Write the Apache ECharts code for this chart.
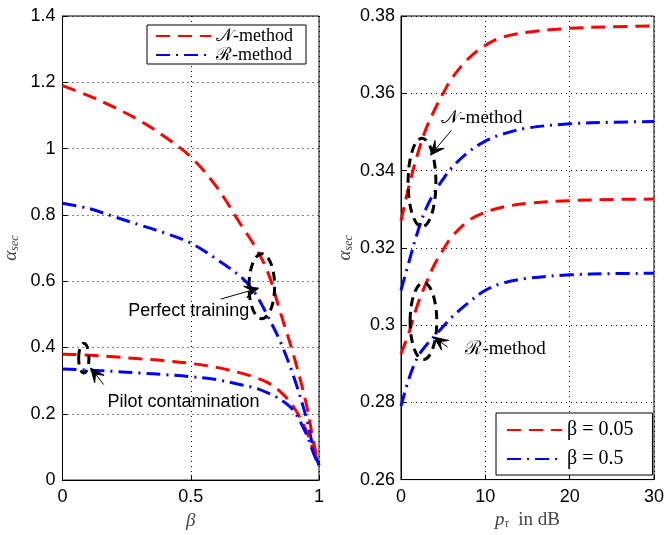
<!DOCTYPE html>
<html>
<head>
<meta charset="utf-8">
<script src="https://cdn.jsdelivr.net/npm/echarts@6/dist/echarts.min.js"></script>
<style>
  html, body { margin: 0; padding: 0; background: #fff; }
  #main { width: 667px; height: 535px; }
</style>
</head>
<body>
<div id="main"></div>
<script>
// left panel: alpha_sec vs beta
var betaX = [0, 0.1, 0.2, 0.3, 0.4, 0.5, 0.6, 0.7, 0.75, 0.8, 0.85, 0.9, 0.95, 0.98, 1];
var nPerfect = [1.19, 1.16, 1.125, 1.085, 1.035, 0.975, 0.885, 0.765, 0.705, 0.628, 0.504, 0.379, 0.231, 0.11, 0.045];
var rPerfect = [0.835, 0.82, 0.795, 0.77, 0.745, 0.715, 0.667, 0.61, 0.565, 0.495, 0.416, 0.315, 0.19, 0.09, 0.045];
var nPilot = [0.38, 0.377, 0.372, 0.366, 0.36, 0.352, 0.34, 0.322, 0.31, 0.294, 0.266, 0.222, 0.15, 0.085, 0.045];
var rPilot = [0.335, 0.332, 0.328, 0.323, 0.318, 0.312, 0.303, 0.287, 0.278, 0.263, 0.243, 0.21, 0.14, 0.078, 0.045];

// right panel: alpha_sec vs p_tau (dB)
var ptauX = [0, 1, 2, 3, 4, 5, 6, 8, 10, 12, 15, 20, 25, 30];
var nBeta005 = [0.327, 0.3365, 0.3445, 0.351, 0.3558, 0.360, 0.3638, 0.369, 0.3724, 0.3745, 0.3758, 0.3768, 0.3772, 0.3774];
var nBeta05 = [0.309, 0.3168, 0.3243, 0.3303, 0.3345, 0.3378, 0.3407, 0.3448, 0.3476, 0.3494, 0.3510, 0.3521, 0.3525, 0.3527];
var rBeta005 = [0.2925, 0.2985, 0.3055, 0.3110, 0.3158, 0.3195, 0.3228, 0.3270, 0.3292, 0.3305, 0.3315, 0.3322, 0.3325, 0.3326];
var rBeta05 = [0.279, 0.2865, 0.2918, 0.2948, 0.2972, 0.2996, 0.3020, 0.3058, 0.3090, 0.3108, 0.3121, 0.3130, 0.3133, 0.3134];

// annotations: [cx, cy, rx, ry, tailX, tailY, headX, headY, textX, textY]
var leftNotes = [
  [0.777, 0.585, 0.05, 0.098, 0.617, 0.546, 0.765, 0.579, 0.492, 0.51],
  [0.083, 0.368, 0.02, 0.045, 0.161, 0.288, 0.110, 0.338, 0.472, 0.236]
];
var leftNoteText = ['Perfect training', 'Pilot contamination'];
var rightNotes = [
  [2.49, 0.3369, 1.65, 0.01147, 5.98, 0.3504, 3.5, 0.344, 9.6, 0.3535],
  [2.66, 0.301, 1.58, 0.00994, 5.52, 0.2943, 3.89, 0.2969, 12.4, 0.2937]
];
var rightNoteText = ['𝒩-method', 'ℛ-method'];

var redDash = { color: '#ff0000', width: 3, type: [14, 8] };
var blueDashDot = { color: '#0000ff', width: 3, type: [14, 6, 2, 6] };

function pairs(xs, ys) {
  return xs.map(function (x, i) { return [x, ys[i]]; });
}

function curve(name, idx, xs, ys, style) {
  return {
    name: name,
    type: 'line',
    xAxisIndex: idx,
    yAxisIndex: idx,
    data: pairs(xs, ys),
    showSymbol: false,
    symbol: 'none',
    smooth: 0.35,
    lineStyle: style,
    itemStyle: { color: style.color },
    z: 3
  };
}

function notes(idx, data, texts, textFont) {
  return {
    type: 'custom',
    xAxisIndex: idx,
    yAxisIndex: idx,
    data: data,
    z: 10,
    silent: true,
    renderItem: function (params, api) {
      var c = api.coord([api.value(0), api.value(1)]);
      var s = api.size([api.value(2), api.value(3)]);
      var t = api.coord([api.value(4), api.value(5)]);
      var h = api.coord([api.value(6), api.value(7)]);
      var l = api.coord([api.value(8), api.value(9)]);
      var dx = h[0] - t[0], dy = h[1] - t[1];
      var len = Math.sqrt(dx * dx + dy * dy);
      dx /= len; dy /= len;
      var nx = -dy, ny = dx;
      var L = 14, W = 6;
      var head = [
        [h[0], h[1]],
        [h[0] - dx * L + nx * W, h[1] - dy * L + ny * W],
        [h[0] - dx * L * 0.55, h[1] - dy * L * 0.55],
        [h[0] - dx * L - nx * W, h[1] - dy * L - ny * W]
      ];
      return {
        type: 'group',
        children: [
          {
            type: 'ellipse',
            shape: { cx: c[0], cy: c[1], rx: s[0], ry: s[1] },
            style: { fill: 'none', stroke: '#000', lineWidth: 3, lineDash: [9, 6] }
          },
          {
            type: 'line',
            shape: { x1: t[0], y1: t[1], x2: h[0] - dx * 8, y2: h[1] - dy * 8 },
            style: { stroke: '#000', lineWidth: 1 }
          },
          {
            type: 'polygon',
            shape: { points: head },
            style: { fill: '#000', stroke: '#000', lineWidth: 1 }
          },
          {
            type: 'text',
            style: {
              text: texts[params.dataIndex],
              x: l[0], y: l[1],
              align: 'center', verticalAlign: 'middle',
              font: textFont,
              fill: '#000'
            }
          }
        ]
      };
    }
  };
}

var tickFont = { fontFamily: 'Liberation Sans', fontSize: 18, color: '#000' };
var nameFont = { fontFamily: 'Liberation Serif', fontSize: 19, fontStyle: 'italic', color: '#444' };
var split = { show: true, lineStyle: { color: '#000', type: [1, 4], width: 1 } };
var axisLine = { show: true, onZero: false, lineStyle: { color: '#000', width: 1 } };
var ticks = { show: true, inside: true, length: 5, lineStyle: { color: '#000' } };
var alphaName = {
  rich: {
    a: { fontFamily: 'Liberation Serif', fontSize: 19, fontStyle: 'italic', color: '#444' },
    s: { fontFamily: 'Liberation Serif', fontSize: 12, fontStyle: 'italic', color: '#444', verticalAlign: 'bottom', padding: [8, 0, 0, 0] }
  }
};
var hideSymbol = { color: 'rgba(0,0,0,0)', borderColor: 'rgba(0,0,0,0)', borderWidth: 0 };

var chart = echarts.init(document.getElementById('main'));
chart.setOption({
  animation: false,
  backgroundColor: '#fff',
  grid: [
    { left: 62, top: 16, width: 257, height: 471, show: true, borderColor: '#000', borderWidth: 1 },
    { left: 401, top: 16, width: 257, height: 471, show: true, borderColor: '#000', borderWidth: 1 }
  ],
  legend: [
    {
      orient: 'vertical', left: 147, top: 25,
      data: ['𝒩-method', 'ℛ-method'],
      itemWidth: 55, itemHeight: 12, itemGap: 1,
      padding: [2, 13, 0, 8],
      itemStyle: hideSymbol,
      borderColor: '#000', borderWidth: 1, borderRadius: 0, backgroundColor: '#fff',
      textStyle: { fontFamily: 'Liberation Serif', fontSize: 18, lineHeight: 16, color: '#000' }
    },
    {
      orient: 'vertical', left: 496, top: 413,
      data: ['β = 0.05', 'β = 0.5'],
      itemWidth: 55, itemHeight: 14, itemGap: 9,
      padding: [7, 19, 6, 10],
      itemStyle: hideSymbol,
      borderColor: '#000', borderWidth: 1, borderRadius: 0, backgroundColor: '#fff',
      textStyle: { fontFamily: 'Liberation Serif', fontSize: 20, lineHeight: 19, color: '#000' }
    }
  ],
  xAxis: [
    {
      type: 'value', gridIndex: 0, min: 0, max: 1, interval: 0.5,
      name: 'β', nameLocation: 'middle', nameGap: 21, nameTextStyle: nameFont,
      axisLine: axisLine, axisTick: ticks, splitLine: split,
      axisLabel: Object.assign({ margin: 8 }, tickFont)
    },
    {
      type: 'value', gridIndex: 1, min: 0, max: 30, interval: 10,
      name: '{p|p}{s|τ}{n|  in dB}', nameLocation: 'middle', nameGap: 23,
      nameTextStyle: {
        rich: {
          p: { fontFamily: 'Liberation Serif', fontSize: 19, fontStyle: 'italic', color: '#444' },
          s: { fontFamily: 'Liberation Serif', fontSize: 12, fontStyle: 'italic', color: '#444', padding: [8, 0, 0, 0] },
          n: { fontFamily: 'Liberation Serif', fontSize: 19, color: '#444' }
        }
      },
      axisLine: axisLine, axisTick: ticks, splitLine: split,
      axisLabel: Object.assign({ margin: 8 }, tickFont)
    }
  ],
  yAxis: [
    {
      type: 'value', gridIndex: 0, min: 0, max: 1.4, interval: 0.2,
      name: '{a|α}{s|sec}', nameLocation: 'middle', nameGap: 42, nameRotate: 90,
      nameTextStyle: alphaName,
      axisLine: axisLine, axisTick: ticks, splitLine: split,
      axisLabel: Object.assign({ margin: 7 }, tickFont)
    },
    {
      type: 'value', gridIndex: 1, min: 0.26, max: 0.38, interval: 0.02,
      name: '{a|α}{s|sec}', nameLocation: 'middle', nameGap: 46, nameRotate: 90,
      nameTextStyle: alphaName,
      axisLine: axisLine, axisTick: ticks, splitLine: split,
      axisLabel: Object.assign({ margin: 6 }, tickFont)
    }
  ],
  series: [
    curve('𝒩-method', 0, betaX, nPerfect, redDash),
    curve('ℛ-method', 0, betaX, rPerfect, blueDashDot),
    curve('𝒩-method', 0, betaX, nPilot, redDash),
    curve('ℛ-method', 0, betaX, rPilot, blueDashDot),
    curve('β = 0.05', 1, ptauX, nBeta005, redDash),
    curve('β = 0.5', 1, ptauX, nBeta05, blueDashDot),
    curve('β = 0.05', 1, ptauX, rBeta005, redDash),
    curve('β = 0.5', 1, ptauX, rBeta05, blueDashDot),
    notes(0, leftNotes, leftNoteText, '18px "Liberation Sans"'),
    notes(1, rightNotes, rightNoteText, '19px "Liberation Serif"')
  ]
});
</script>
</body>
</html>
